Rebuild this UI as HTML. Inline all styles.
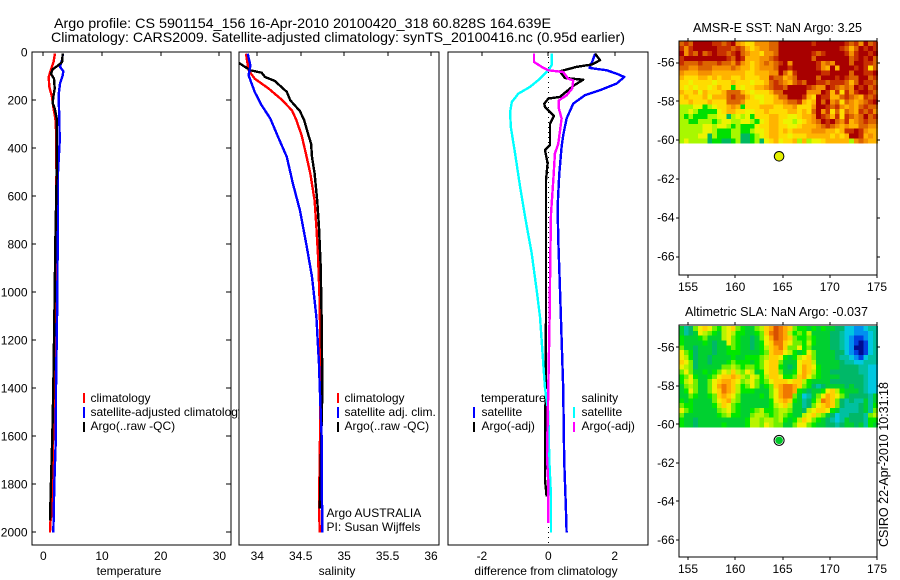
<!DOCTYPE html>
<html lang="en">
<head>
<meta charset="utf-8">
<title>Argo profile 5901154_156</title>
<style>
html,body{margin:0;padding:0;background:#fff;}
svg{display:block;font-family:"Liberation Sans",sans-serif;font-size:12px;fill:#000;}
text{fill:#000;}
.frame{fill:none;stroke:#000;stroke-width:1;shape-rendering:crispEdges;}
.bar{shape-rendering:crispEdges;}
</style>
</head>
<body>
<svg xmlns="http://www.w3.org/2000/svg" width="900" height="580" viewBox="0 0 900 580">
<defs>
<clipPath id="clip-temp"><rect x="32" y="52" width="199" height="493"/></clipPath>
<clipPath id="clip-sal"><rect x="239" y="52" width="200" height="493"/></clipPath>
<clipPath id="clip-diff"><rect x="448" y="52" width="200" height="493"/></clipPath>
</defs>
<rect x="0" y="0" width="900" height="580" fill="#fff"/>
<text x="54" y="28" font-size="14" textLength="497" lengthAdjust="spacingAndGlyphs">Argo profile: CS 5901154_156 16-Apr-2010 20100420_318 60.828S 164.639E</text>
<text x="51" y="42" font-size="14" textLength="574" lengthAdjust="spacingAndGlyphs">Climatology: CARS2009. Satellite-adjusted climatology: synTS_20100416.nc (0.95d earlier)</text>

<g id="panel-temp">
<rect x="32" y="52" width="199" height="493" fill="#fff"/>
<g id="curves-temp" clip-path="url(#clip-temp)"></g>
<rect class="bar" x="83" y="393" width="2" height="10" fill="#f00"/>
<text x="90.5" y="402">climatology</text>
<rect class="bar" x="83" y="407" width="2" height="11" fill="#00f"/>
<text x="90.5" y="416">satellite-adjusted climatology</text>
<rect class="bar" x="83" y="422" width="2" height="10" fill="#000"/>
<text x="90.5" y="430">Argo(..raw -QC)</text>
<rect class="frame" x="32" y="52" width="199" height="493"/>
<text x="129" y="575" text-anchor="middle">temperature</text>
</g>

<g id="panel-sal">
<rect x="239" y="52" width="200" height="493" fill="#fff"/>
<g id="curves-sal" clip-path="url(#clip-sal)"></g>
<rect class="bar" x="337" y="393" width="2" height="10" fill="#f00"/>
<text x="344.5" y="402">climatology</text>
<rect class="bar" x="337" y="407" width="2" height="11" fill="#00f"/>
<text x="344.5" y="416">satellite adj. clim.</text>
<rect class="bar" x="337" y="422" width="2" height="10" fill="#000"/>
<text x="344.5" y="430">Argo(..raw -QC)</text>
<text x="326.5" y="517">Argo AUSTRALIA</text>
<text x="326.5" y="531">PI: Susan Wijffels</text>
<rect class="frame" x="239" y="52" width="200" height="493"/>
<text x="337" y="575" text-anchor="middle">salinity</text>
</g>

<g id="panel-diff">
<rect x="448" y="52" width="200" height="493" fill="#fff"/>
<g id="curves-diff" clip-path="url(#clip-diff)"></g>
<text x="481" y="402">temperature</text>
<rect class="bar" x="473" y="407" width="2" height="11" fill="#00f"/>
<text x="481.5" y="416">satellite</text>
<rect class="bar" x="473" y="422" width="2" height="10" fill="#000"/>
<text x="481.5" y="430">Argo(-adj)</text>
<text x="581.5" y="402">salinity</text>
<rect class="bar" x="573" y="407" width="2" height="11" fill="#0ff"/>
<text x="581.5" y="416">satellite</text>
<rect class="bar" x="573" y="422" width="2" height="10" fill="#f0f"/>
<text x="581.5" y="430">Argo(-adj)</text>
<rect class="frame" x="448" y="52" width="200" height="493"/>
<text x="546" y="575" text-anchor="middle">difference from climatology</text>
</g>

<g id="map-sst">
<text x="693" y="32" font-size="13" textLength="169" lengthAdjust="spacingAndGlyphs">AMSR-E SST: NaN Argo: 3.25</text>
<g id="cells-sst"></g>
<rect class="frame" x="679" y="41" width="198" height="234"/>
</g>

<g id="map-sla">
<text x="685" y="316" font-size="13" textLength="183" lengthAdjust="spacingAndGlyphs">Altimetric SLA: NaN Argo: -0.037</text>
<g id="cells-sla"></g>
<rect class="frame" x="679" y="325" width="198" height="232"/>
</g>

<text transform="translate(888,547) rotate(-90)" textLength="165" lengthAdjust="spacingAndGlyphs" font-size="13">CSIRO 22-Apr-2010 10:31:18</text>
<g id="overlay"></g>
</svg>

<script>
// ---- Axis ticks ----
const depthTicks = [0, 200, 400, 600, 800, 1000, 1200, 1400, 1600, 1800, 2000];
const tempTicks = [0, 10, 20, 30];
const salTicks = [34, 34.5, 35, 35.5, 36];
const diffTicks = [-2, 0, 2];
const lonTicks = [155, 160, 165, 170, 175];
const latTicks = [-56, -58, -60, -62, -64, -66];

// ---- Temperature profiles ----
const tempClimDepth = [5, 40, 75, 103, 144, 186, 228, 275, 300, 500, 800, 1000, 1400, 1700, 1900, 1960, 2000];
const tempClimValue = [2.0, 1.75, 1.26, 0.92, 1.03, 1.48, 1.7, 2.05, 2.15, 2.25, 2.1, 2.0, 1.82, 1.6, 1.55, 1.2, 1.14];
const tempSatDepth = [5, 26, 61, 79, 96, 131, 179, 290, 370, 500, 1000, 1400, 1600, 1800, 1950, 2000];
const tempSatValue = [3.3, 3.25, 2.85, 3.4, 3.3, 2.85, 2.6, 2.75, 2.8, 2.5, 2.4, 2.17, 2.15, 1.88, 1.75, 1.7];
const tempArgoDepth = [5, 40, 54, 71, 89, 110, 151, 186, 212, 234, 276, 500, 800, 1000, 1400, 1600, 1800, 1950];
const tempArgoValue = [3.3, 3.2, 2.56, 1.6, 1.3, 1.82, 1.94, 1.7, 1.6, 1.94, 2.28, 2.28, 2.05, 1.94, 1.7, 1.53, 1.3, 1.14];

// ---- Salinity profiles ----
const salClimDepth = [6, 75, 110, 151, 197, 242, 283, 346, 422, 505, 617, 728, 853, 1056, 1400, 1900, 2000];
const salClimValue = [33.87, 33.9, 33.97, 34.13, 34.28, 34.4, 34.45, 34.51, 34.56, 34.61, 34.66, 34.68, 34.7, 34.72, 34.73, 34.71, 34.72];
const salSatDepth = [6, 55, 96, 165, 221, 276, 353, 436, 547, 658, 811, 936, 1103, 1300, 1400, 1600, 1800, 1950, 2000];
const salSatValue = [33.89, 33.92, 33.9, 33.97, 34.05, 34.15, 34.24, 34.34, 34.41, 34.49, 34.57, 34.63, 34.68, 34.71, 34.72, 34.74, 34.74, 34.75, 34.75];
const salArgoDepth = [38, 47, 75, 85, 103, 119, 165, 200, 245, 283, 346, 381, 436, 505, 617, 728, 894, 1103, 1400, 1550, 1800, 1900];
const salArgoValue = [33.75, 33.8, 33.92, 34.05, 34.09, 34.2, 34.34, 34.38, 34.49, 34.54, 34.59, 34.62, 34.63, 34.66, 34.69, 34.71, 34.73, 34.74, 34.75, 34.74, 34.725, 34.72];

// ---- Differences from climatology ----
const diffTempSatDepth = [6, 33, 65, 75, 89, 103, 130, 158, 179, 214, 276, 346, 394, 505, 644, 783, 978, 1103, 1400, 1700, 1900, 2000];
const diffTempSatValue = [1.41, 1.34, 1.24, 1.76, 2.06, 2.29, 2.06, 1.56, 1.1, 0.75, 0.55, 0.45, 0.4, 0.33, 0.28, 0.3, 0.35, 0.38, 0.45, 0.48, 0.53, 0.55];
const diffTempArgoDepth = [6, 33, 51, 61, 79, 107, 114, 140, 186, 193, 214, 228, 265, 297, 387, 408, 463, 533, 1103, 1780, 1850];
const diffTempArgoValue = [1.41, 1.56, 1.31, 0.85, 0.35, 0.5, 1.05, 0.75, 0.35, 0, -0.12, -0.1, 0.17, 0.05, 0.05, -0.1, -0.02, -0.07, -0.07, -0.1, -0.05];
const diffSalSatDepth = [6, 54, 75, 110, 144, 172, 207, 249, 311, 422, 561, 686, 838, 992, 1103, 1400, 1500, 1700, 1850, 2000];
const diffSalSatValue = [0.1, 0.1, 0, -0.25, -0.55, -0.9, -1.1, -1.15, -1.13, -1.0, -0.85, -0.7, -0.5, -0.35, -0.25, -0.1, 0, 0.03, 0.08, 0.08];
const diffSalArgoDepth = [6, 40, 61, 75, 82, 110, 117, 151, 179, 200, 235, 276, 380, 422, 533, 672, 853, 1103, 1400, 1680, 1800, 1961];
const diffSalArgoValue = [-0.43, -0.43, -0.2, 0, 0.45, 0.6, 0.75, 0.72, 0.55, 0.32, 0.32, 0.4, 0.3, 0.2, 0.15, 0.08, 0.06, 0.04, 0, -0.04, 0, 0];

// ---- SST map cells: 21 rows of 42 colour-class digits ----
const sstRows = [
"212000011210345533322000000010000001213021",
"131000001112124543322000000000000012420101",
"031202101121023445332000000012100001310010",
"100000000012014443321000000020000000210102",
"122212221223134543232103000001323000200112",
"223322233332344543332001000001340400010152",
"344433344444445544433024100000110000200110",
"455544545445545554412243200002000101220021",
"556555565554555655421234212001121112420112",
"565655654558565544321120000123301232301021",
"455464555422245655542200000333014151310012",
"545554644421224566554220001450114421234121",
"554555455522235556554432214540203252343210",
"777668765543485554445544355530012134342122",
"776788886544556655455554454520315252341213",
"787888776697676855544556654430124151232021",
"778877787667766786544566765432010231432122",
"777776676678788865544556654443212343442233",
"777776678887788766544545444433344541101344",
"777766978887799876544556555444445454001434",
"767777988998799879654655474766544444732344"
];
const sstPalette = ["#a80000", "#c83000", "#dc6400", "#f49000", "#ffb400", "#ffdc00", "#ecf400", "#a8f800", "#00e000", "#00b860"];

// ---- SLA map cells: 21 rows of 42 colour-class hex digits ----
const slaRows = [
"6458ab a879ab 876689 bcedcb 877676 766553 322344",
"6456a9 8769a9 776678 bdedc9 787966 665543 322234",
"766678 6669a8 766568 acedcb 877876 665543 211234",
"766667 6566a8 766567 abddba 887976 665543 210134",
"866566 656678 766567 9bcdb8 8a7866 665543 200134",
"a87566 656677 766667 8bcca9 767a86 666553 210134",
"a97566 566667 667778 9bba76 79ab86 666544 321344",
"ba8566 566678 777678 abb866 6abb96 666654 433444",
"a98566 666889 878878 abb765 6acba7 666655 554433",
"8a8667 678a9b 98a967 abb866 7acb97 665555 554433",
"78a766 78abbc b98a97 9bba77 8bca87 666655 555433",
"79a866 8abccb a89a87 8abbba bb9766 665555 555433",
"689866 8acdcb 978a86 78bcdd cb8754 566665 655433",
"67a866 8abdcb 977766 68acdd c76566 7ab976 665433",
"668766 78bcba 866667 68acdd 863468 acba86 555546",
"767666 68abc9 866666 67abcb 764579 dcb854 544646",
"877666 679ba8 766666 679ab9 66458a bcb854 445647",
"a87666 6689a8 766789 778998 6659ab ba7644 445648",
"866666 667897 766899 878987 669ab9 865344 555489",
"766566 666666 667998 998976 79ba87 654346 555477",
"766566 666766 667998 a98866 8aa876 655456 656476"
];
const slaPalette = ["#000c90", "#0040e0", "#0090f0", "#00c8e0", "#00c0a0", "#00b868", "#00d030", "#00e800", "#70f000", "#b8f400", "#f0f000", "#ffd000", "#ffa800", "#f07800", "#d85000"];

// ---- Argo float position on the maps ----
const floatLon = [164.64];
const floatLat = [-60.83];

// ---- Axis functions ----
const yDepth = d => 52.3 + 0.24 * d;
const xTemp = v => 43.3 + 5.87 * v;
const xSal = v => 257.3 + 86.85 * (v - 34);
const xDiff = v => 548.3 + 33.2 * v;
const xLon = lon => 688 + 9.45 * (lon - 155);
const ySst = lat => 62.7 + 19.38 * (-56 - lat);
const ySla = lat => 347.3 + 19.27 * (-56 - lat);

const NS = 'http://www.w3.org/2000/svg';
function make(tag, parent, props) {
  const el = document.createElementNS(NS, tag);
  Object.keys(props).forEach(k => el.setAttribute(k, props[k]));
  parent.appendChild(el);
  return el;
}
function curve(parent, depths, values, xFn, color, width) {
  const pts = depths.map((d, i) => xFn(values[i]).toFixed(1) + ',' + yDepth(d).toFixed(1)).join(' ');
  return make('polyline', parent, {points: pts, fill: 'none', stroke: color, 'stroke-width': width, 'stroke-linejoin': 'round', 'shape-rendering': 'crispEdges'});
}

const curvesTemp = document.getElementById('curves-temp');
const curvesSal = document.getElementById('curves-sal');
const curvesDiff = document.getElementById('curves-diff');
const overlay = document.getElementById('overlay');

let c;
c = curve(curvesTemp, tempClimDepth, tempClimValue, xTemp, '#f00', 2.4);


c = curve(curvesTemp, tempSatDepth, tempSatValue, xTemp, '#00f', 2.4);


c = curve(curvesTemp, tempArgoDepth, tempArgoValue, xTemp, '#000', 2.4);



c = curve(curvesSal, salClimDepth, salClimValue, xSal, '#f00', 2.4);


c = curve(curvesSal, salArgoDepth, salArgoValue, xSal, '#000', 2.4);


c = curve(curvesSal, salSatDepth, salSatValue, xSal, '#00f', 2.4);



const zeroLine = make('line', curvesDiff, {x1: xDiff(0), x2: xDiff(0), y1: 52, y2: 545, stroke: '#000', 'stroke-width': 1, 'stroke-dasharray': '1 4', 'shape-rendering': 'crispEdges'});


c = curve(curvesDiff, diffTempSatDepth, diffTempSatValue, xDiff, '#00f', 2.4);


c = curve(curvesDiff, diffTempArgoDepth, diffTempArgoValue, xDiff, '#000', 2.4);


c = curve(curvesDiff, diffSalSatDepth, diffSalSatValue, xDiff, '#0ff', 2.4);


c = curve(curvesDiff, diffSalArgoDepth, diffSalArgoValue, xDiff, '#f0f', 2.4);



// ---- Heatmaps ----
const lonStart = 154.05, lonStep = 0.5;
const sstLatStart = -54.9, slaLatStart = -54.9, latStep = 0.25;
const cellsSst = document.getElementById('cells-sst');
sstRows.forEach((row, j) => {
  row.replace(/ /g, '').split('').forEach((ch, i) => {
    const x0 = xLon(lonStart + i * lonStep), x1 = xLon(lonStart + (i + 1) * lonStep);
    const y0 = ySst(sstLatStart - j * latStep), y1 = ySst(sstLatStart - (j + 1) * latStep);
    const cell = make('rect', cellsSst, {x: x0.toFixed(2), y: y0.toFixed(2), width: (x1 - x0 + 0.3).toFixed(2), height: (y1 - y0 + 0.3).toFixed(2), fill: sstPalette[parseInt(ch, 16)], 'shape-rendering': 'crispEdges'});
    
    
  });
});
const cellsSla = document.getElementById('cells-sla');
slaRows.forEach((row, j) => {
  row.replace(/ /g, '').split('').forEach((ch, i) => {
    const x0 = xLon(lonStart + i * lonStep), x1 = xLon(lonStart + (i + 1) * lonStep);
    const y0 = ySla(slaLatStart - j * latStep), y1 = ySla(slaLatStart - (j + 1) * latStep);
    const cell = make('rect', cellsSla, {x: x0.toFixed(2), y: y0.toFixed(2), width: (x1 - x0 + 0.3).toFixed(2), height: (y1 - y0 + 0.3).toFixed(2), fill: slaPalette[parseInt(ch, 16)], 'shape-rendering': 'crispEdges'});
    
    
  });
});

// ---- Float markers ----
const sstDot = make('circle', overlay, {cx: xLon(floatLon[0]), cy: ySst(floatLat[0]), r: 4.8, fill: '#e4f000', stroke: '#000', 'stroke-width': 1});


const slaRing = make('circle', overlay, {cx: xLon(floatLon[0]), cy: ySla(floatLat[0]), r: 5, fill: '#fff', stroke: '#000', 'stroke-width': 1});


const slaDot = make('circle', overlay, {cx: xLon(floatLon[0]), cy: ySla(floatLat[0]), r: 3.8, fill: '#00c828'});



// ---- Ticks and tick labels ----
function tick(x1, y1, x2, y2) {
  const t = make('line', overlay, {x1: Math.round(x1), y1: Math.round(y1), x2: Math.round(x2), y2: Math.round(y2), stroke: '#000', 'stroke-width': 1, 'shape-rendering': 'crispEdges'});
  
  
}
function label(x, y, str, anchor) {
  const t = make('text', overlay, {x: x, y: y, 'text-anchor': anchor});
  t.textContent = str;
  
  
}
tempTicks.forEach(v => {
  tick(xTemp(v), 52, xTemp(v), 56);
  label(xTemp(v), 560, String(v), 'middle');
});
salTicks.forEach(v => {
  tick(xSal(v), 52, xSal(v), 56);
  label(xSal(v), 560, String(v), 'middle');
});
diffTicks.forEach(v => {
  tick(xDiff(v), 52, xDiff(v), 56);
  label(xDiff(v), 560, String(v), 'middle');
});
depthTicks.forEach(d => {
  tick(32, yDepth(d), 36, yDepth(d));
  tick(231, yDepth(d), 226, yDepth(d));
  label(27.5, yDepth(d) + 4, String(d), 'end');
});

const mapPanels = [
  {top: 41, bottom: 275, fn: ySst},
  {top: 325, bottom: 557, fn: ySla}
];
mapPanels.forEach(m => {
  lonTicks.forEach(lon => {
    const x = xLon(lon);
    tick(x, m.top, x, m.top - 3);
    tick(x, m.bottom, x, m.bottom + 3);
    label(x, m.bottom + 16, String(lon), 'middle');
  });
  latTicks.forEach(lat => {
    const y = m.fn(lat);
    tick(679, y, 676, y);
    tick(877, y, 880, y);
    label(674.5, y + 4, String(lat), 'end');
  });
});
</script>
</body>
</html>
